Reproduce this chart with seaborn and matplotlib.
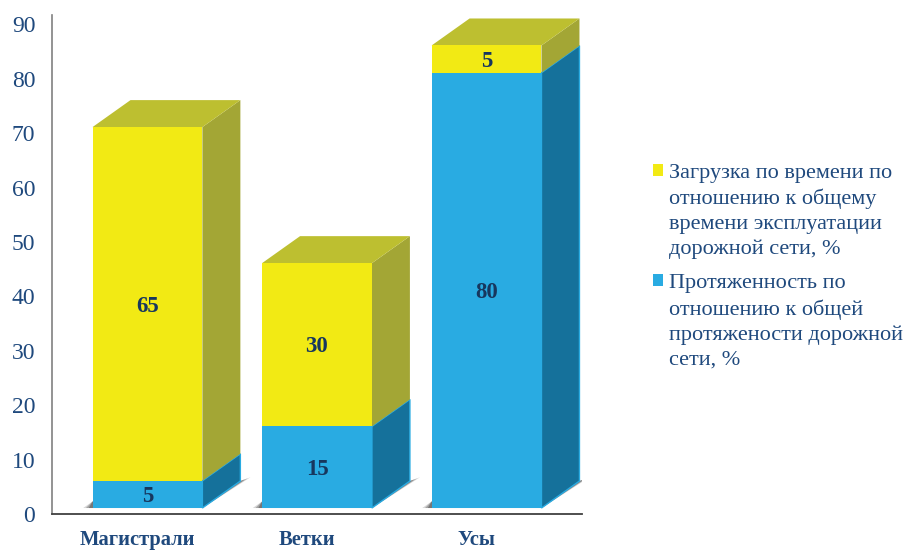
import matplotlib
matplotlib.use("Agg")
import matplotlib.pyplot as plt
from matplotlib.legend_handler import HandlerPatch
from matplotlib.patches import Polygon, Patch, Rectangle
from matplotlib.transforms import ScaledTranslation
import pandas as pd
import seaborn as sns

categories = ["Магистрали", "Ветки", "Усы"]
length_values = [5, 15, 80]
load_values = [65, 30, 5]
y_ticks = list(range(0, 100, 10))
load_label = "Загрузка по времени по\nотношению к общему\nвремени эксплуатации\nдорожной сети, %"
length_label = "Протяженность по\nотношению к общей\nпротяжености дорожной\nсети, %"

W, H = 905, 550
BLUE, BLUE_SIDE = "#29abe2", "#15719b"
YELLOW, YELLOW_SIDE, YELLOW_TOP = "#f2ea14", "#a3a635", "#bdbf30"
TEXT = "#1f497d"
DARK = "#17375e"
SERIF = "Liberation Serif"

sns.set_theme(style="white", rc={"font.family": SERIF})
fig = plt.figure(figsize=(W / 100, H / 100), dpi=100)
ax = fig.add_axes([52 / W, (H - 514) / H, 530 / W, 499 / H])

FLOOR = 1.1
DX, DY = 0.224, 4.96
WIDTH = 0.648

df = pd.DataFrame({"cat": categories, "length": length_values, "load": load_values})
bottoms = [FLOOR + v for v in length_values]
sns.barplot(df, x="cat", y="length", color=BLUE, saturation=1, width=WIDTH,
            bottom=FLOOR, ax=ax, linewidth=0, zorder=3)
n_blue = len(ax.patches)
sns.barplot(df, x="cat", y="load", color=YELLOW, saturation=1, width=WIDTH,
            bottom=bottoms, ax=ax, linewidth=0, zorder=3)
blue_bars = ax.patches[:n_blue]
yellow_bars = ax.patches[n_blue:]


def side(b, color, edge=None):
    x1 = b.get_x() + b.get_width()
    y0, y1 = b.get_y(), b.get_y() + b.get_height()
    ax.add_patch(Polygon([(x1, y0), (x1 + DX, y0 + DY), (x1 + DX, y1 + DY), (x1, y1)],
                         closed=True, fc=color, ec=edge or color, lw=1 if edge else 0, zorder=2))


def top(b, color):
    x0, x1 = b.get_x(), b.get_x() + b.get_width()
    y1 = b.get_y() + b.get_height()
    ax.add_patch(Polygon([(x0, y1), (x1, y1), (x1 + DX, y1 + DY), (x0 + DX, y1 + DY)],
                         closed=True, fc=color, lw=0, zorder=2))


def shadow(b):
    x0, x1 = b.get_x(), b.get_x() + b.get_width()
    y0 = b.get_y()
    for i, a in enumerate([0.2, 0.3, 0.4]):
        k = 1 - i * 0.3
        ax.add_patch(Polygon([(x0 - 0.055 * k, y0), (x0, y0 + 1.2), (x1 + DX, y0 + DY),
                              (x1 + DX + 0.06 * k, y0 + DY + 0.7 * k), (x1, y0)],
                             closed=True, fc="#333333", alpha=a, lw=0, zorder=1))


for b in blue_bars:
    shadow(b)
    side(b, BLUE_SIDE, edge=BLUE)
for b in yellow_bars:
    side(b, YELLOW_SIDE)
    top(b, YELLOW_TOP)

for bars, vals in ((blue_bars, length_values), (yellow_bars, load_values)):
    for b, v in zip(bars, vals):
        ax.annotate(str(v), (b.get_x() + b.get_width() / 2, b.get_y() + b.get_height() / 2),
                    xytext=(0, -1.5), textcoords="offset points",
                    ha="center", va="center", fontsize=16.5, fontweight="bold", color=DARK,
                    family=SERIF, zorder=5)

ax.set_xlim(-0.563, 2.563)
ax.set_ylim(0, 91.7)
ax.set_yticks(y_ticks)
ax.set_xlabel("")
ax.set_ylabel("")
ax.tick_params(axis="y", length=0, pad=12, labelsize=17, labelcolor=TEXT)
ax.tick_params(axis="x", length=0, pad=11.5, labelsize=14.8, labelcolor=TEXT)
shift = ScaledTranslation(-10 / 100, 0, fig.dpi_scale_trans)
for t in ax.get_xticklabels():
    t.set_fontweight("bold")
    t.set_transform(t.get_transform() + shift)

sns.despine(ax=ax)
ax.spines["left"].set_color("#808080")
ax.spines["left"].set_linewidth(1.2)
ax.spines["bottom"].set_color("#404040")
ax.spines["bottom"].set_linewidth(1.3)
ax.patch.set_alpha(0)


class FirstLineHandle(HandlerPatch):
    """Square key lifted to the first line of a four-line label."""

    def create_artists(self, legend, orig, xd, yd, w, h, fs, trans):
        p = Rectangle((-xd, -yd + 29.5), w, h, fc=orig.get_facecolor(), lw=0, transform=trans)
        return [p]


y_patch = Patch(color=YELLOW, label=load_label)
b_patch = Patch(color=BLUE, label=length_label)
leg = fig.legend(handles=[y_patch, b_patch],
                 handler_map={Patch: FirstLineHandle()},
                 loc="upper left", bbox_to_anchor=(653 / W, (H - 164) / H), frameon=False,
                 fontsize=16, labelcolor=TEXT, handlelength=0.45, handleheight=0.45,
                 handletextpad=0.27, labelspacing=0.7, borderpad=0, borderaxespad=0)
for t in leg.get_texts():
    t.set_linespacing(1.385)
    t.set_family(SERIF)

fig.savefig("out.png", dpi=100, facecolor="white")
